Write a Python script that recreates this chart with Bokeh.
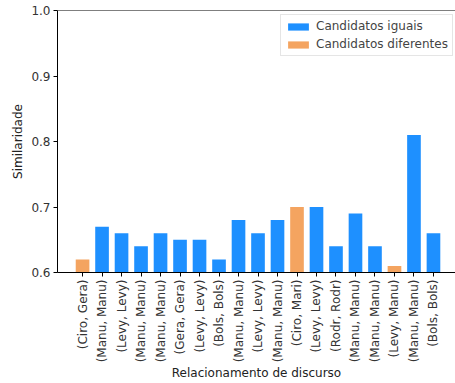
from math import pi
from bokeh.plotting import figure
from bokeh.models import Range1d, FixedTicker, Span, ColumnDataSource, Legend, LegendItem
from bokeh.embed import file_html
from bokeh.resources import INLINE

labels = ["(Ciro, Gera)", "(Manu, Manu)", "(Levy, Levy)", "(Manu, Manu)", "(Manu, Manu)",
          "(Gera, Gera)", "(Levy, Levy)", "(Bols, Bols)", "(Manu, Manu)", "(Levy, Levy)",
          "(Manu, Manu)", "(Ciro, Mari)", "(Levy, Levy)", "(Rodr, Rodr)", "(Manu, Manu)",
          "(Manu, Manu)", "(Levy, Manu)", "(Manu, Manu)", "(Bols, Bols)"]
values = [0.62, 0.67, 0.66, 0.64, 0.66, 0.65, 0.65, 0.62, 0.68, 0.66,
          0.68, 0.70, 0.70, 0.64, 0.69, 0.64, 0.61, 0.81, 0.66]
same = [False, True, True, True, True, True, True, True, True, True,
        True, False, True, True, True, True, False, True, True]
yticks = [0.6, 0.7, 0.8, 0.9, 1.0]

FONT = "DejaVu Sans"
FS = "12px"
x = list(range(len(labels)))
src_same = ColumnDataSource(dict(x=[i for i in x if same[i]], top=[values[i] for i in x if same[i]]))
src_diff = ColumnDataSource(dict(x=[i for i in x if not same[i]], top=[values[i] for i in x if not same[i]]))

p = figure(width=455, height=383, output_backend="svg", toolbar_location=None,
           x_range=Range1d(-1.285, 19.13), y_range=Range1d(0.6, 1.0),
           min_border_left=57, min_border_right=0, min_border_top=10, min_border_bottom=111)
p.outline_line_color = None
p.grid.grid_line_color = None
p.background_fill_color = "white"

r1 = p.vbar(x="x", top="top", bottom=0.6, width=0.7, source=src_same, fill_color="#1E90FF", line_color=None)
r2 = p.vbar(x="x", top="top", bottom=0.6, width=0.7, source=src_diff, fill_color="#F4A460", line_color=None)

p.add_layout(Span(location=1.0, dimension="width", line_color="black", line_width=1))

p.xaxis.ticker = FixedTicker(ticks=x)
p.xaxis.major_label_overrides = {i: labels[i] for i in x}
p.xaxis.major_label_orientation = pi / 2
p.yaxis.ticker = FixedTicker(ticks=yticks)
p.yaxis.major_label_overrides = {t: f"{t:.1f}" for t in yticks}
for ax in (p.xaxis, p.yaxis):
    ax.minor_tick_line_color = None
    ax.major_tick_in = 0
    ax.major_tick_out = 4
    ax.major_label_text_font = FONT
    ax.major_label_text_font_size = FS
    ax.major_label_text_color = "#333333"
    ax.axis_label_text_font = FONT
    ax.axis_label_text_font_size = FS
    ax.axis_label_text_font_style = "normal"
    ax.axis_label_text_color = "#222222"
    ax.axis_line_color = "black"
p.xaxis.axis_label = "Relacionamento de discurso"
p.yaxis.axis_label = "Similaridade"
p.xaxis.major_label_standoff = 3
p.yaxis.major_label_standoff = 3
p.yaxis.axis_label_standoff = 3
p.xaxis.axis_label_standoff = 1

legend = Legend(items=[LegendItem(label="Candidatos iguais", renderers=[r1]),
                       LegendItem(label="Candidatos diferentes", renderers=[r2])],
                location=(223, 216), label_text_font=FONT, label_text_font_size=FS,
                border_line_color="#cccccc", glyph_width=26, glyph_height=9,
                label_height=14, spacing=4, padding=4, margin=0)
p.add_layout(legend)

open("out.html", "w").write(file_html(p, INLINE))
